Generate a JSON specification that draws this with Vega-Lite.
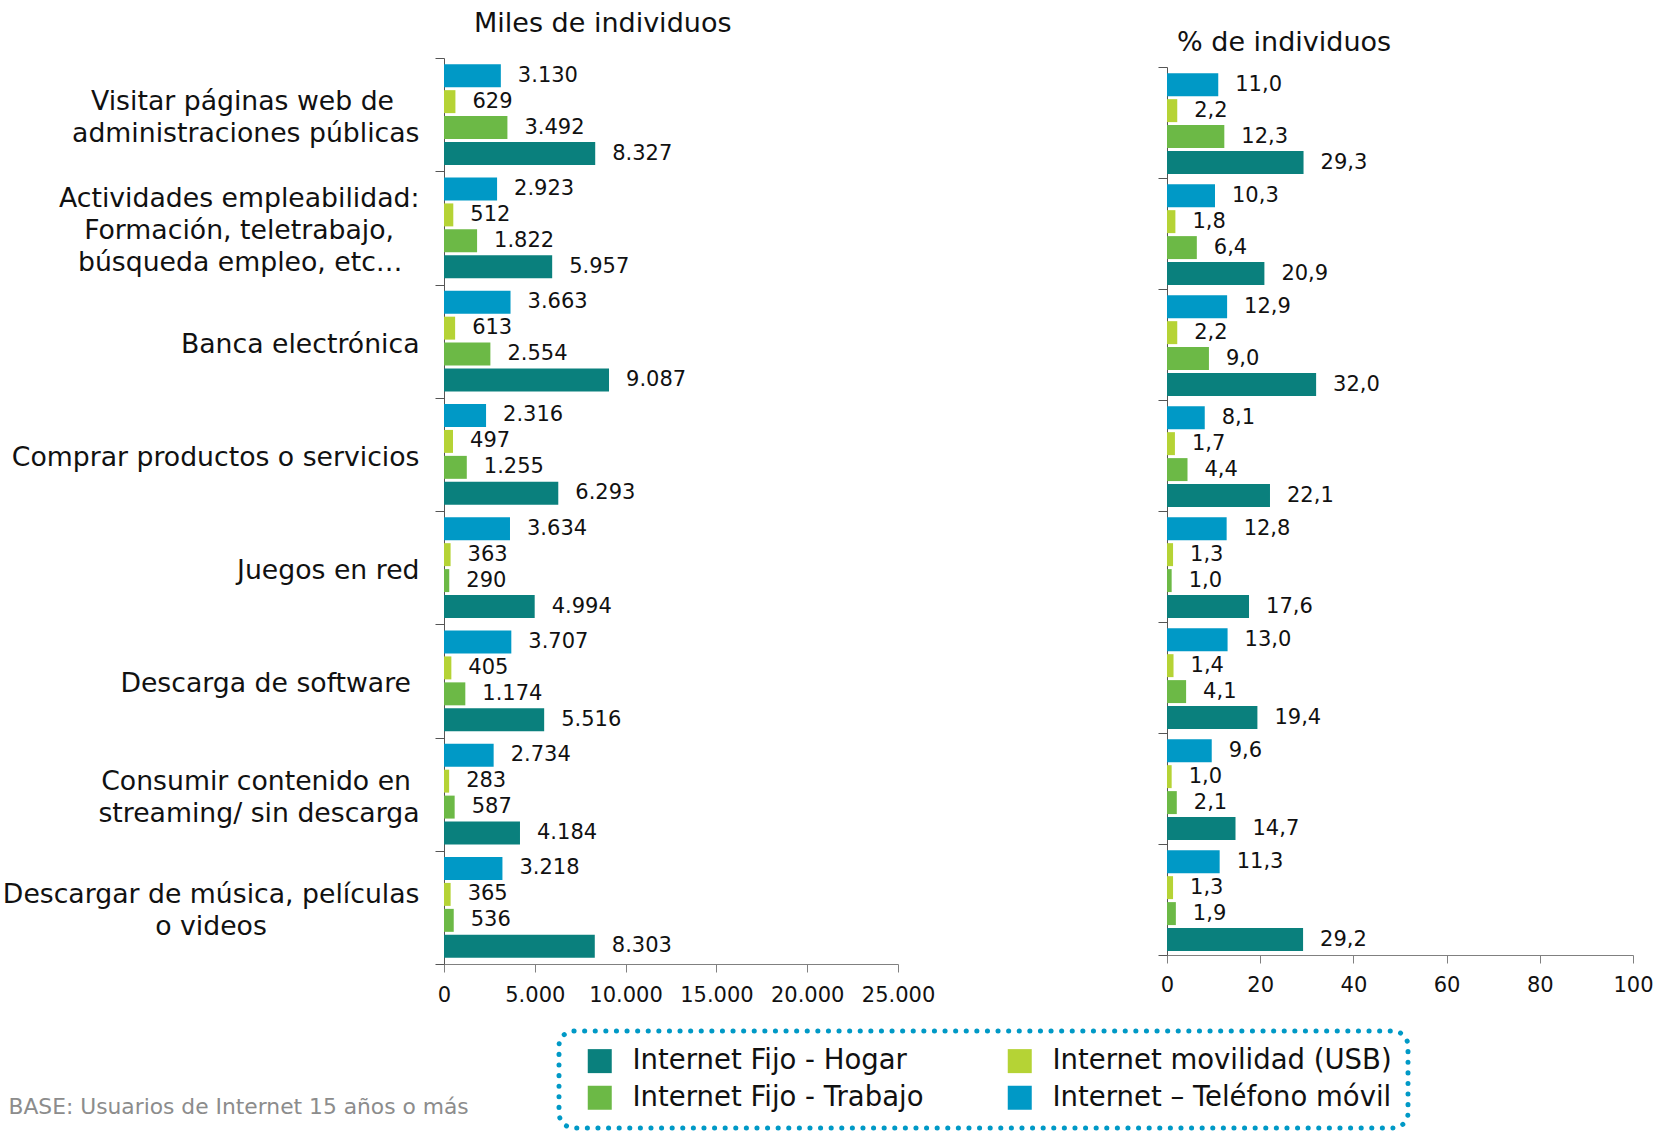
{
  "$schema": "https://vega.github.io/schema/vega-lite/v6.json",
  "background": "white",
  "padding": {"left": 2, "top": 10, "right": 0, "bottom": 0},
  "data": {"values": [
    {"cat": "Visitar páginas web de\u00a0\u00a0\u00a0\u200b|administraciones públicas", "serie": "Internet – Teléfono móvil", "miles": 3130, "pct": 11.0},
    {"cat": "Visitar páginas web de\u00a0\u00a0\u00a0\u200b|administraciones públicas", "serie": "Internet movilidad (USB)", "miles": 629, "pct": 2.2},
    {"cat": "Visitar páginas web de\u00a0\u00a0\u00a0\u200b|administraciones públicas", "serie": "Internet Fijo - Trabajo", "miles": 3492, "pct": 12.3},
    {"cat": "Visitar páginas web de\u00a0\u00a0\u00a0\u200b|administraciones públicas", "serie": "Internet Fijo - Hogar", "miles": 8327, "pct": 29.3},
    {"cat": "Actividades empleabilidad:|Formación, teletrabajo,\u00a0\u00a0\u00a0\u200b|búsqueda empleo, etc…\u00a0\u00a0\u200b", "serie": "Internet – Teléfono móvil", "miles": 2923, "pct": 10.3},
    {"cat": "Actividades empleabilidad:|Formación, teletrabajo,\u00a0\u00a0\u00a0\u200b|búsqueda empleo, etc…\u00a0\u00a0\u200b", "serie": "Internet movilidad (USB)", "miles": 512, "pct": 1.8},
    {"cat": "Actividades empleabilidad:|Formación, teletrabajo,\u00a0\u00a0\u00a0\u200b|búsqueda empleo, etc…\u00a0\u00a0\u200b", "serie": "Internet Fijo - Trabajo", "miles": 1822, "pct": 6.4},
    {"cat": "Actividades empleabilidad:|Formación, teletrabajo,\u00a0\u00a0\u00a0\u200b|búsqueda empleo, etc…\u00a0\u00a0\u200b", "serie": "Internet Fijo - Hogar", "miles": 5957, "pct": 20.9},
    {"cat": "Banca electrónica", "serie": "Internet – Teléfono móvil", "miles": 3663, "pct": 12.9},
    {"cat": "Banca electrónica", "serie": "Internet movilidad (USB)", "miles": 613, "pct": 2.2},
    {"cat": "Banca electrónica", "serie": "Internet Fijo - Trabajo", "miles": 2554, "pct": 9.0},
    {"cat": "Banca electrónica", "serie": "Internet Fijo - Hogar", "miles": 9087, "pct": 32.0},
    {"cat": "Comprar productos o servicios", "serie": "Internet – Teléfono móvil", "miles": 2316, "pct": 8.1},
    {"cat": "Comprar productos o servicios", "serie": "Internet movilidad (USB)", "miles": 497, "pct": 1.7},
    {"cat": "Comprar productos o servicios", "serie": "Internet Fijo - Trabajo", "miles": 1255, "pct": 4.4},
    {"cat": "Comprar productos o servicios", "serie": "Internet Fijo - Hogar", "miles": 6293, "pct": 22.1},
    {"cat": "Juegos en red", "serie": "Internet – Teléfono móvil", "miles": 3634, "pct": 12.8},
    {"cat": "Juegos en red", "serie": "Internet movilidad (USB)", "miles": 363, "pct": 1.3},
    {"cat": "Juegos en red", "serie": "Internet Fijo - Trabajo", "miles": 290, "pct": 1.0},
    {"cat": "Juegos en red", "serie": "Internet Fijo - Hogar", "miles": 4994, "pct": 17.6},
    {"cat": "Descarga de software\u00a0\u200b", "serie": "Internet – Teléfono móvil", "miles": 3707, "pct": 13.0},
    {"cat": "Descarga de software\u00a0\u200b", "serie": "Internet movilidad (USB)", "miles": 405, "pct": 1.4},
    {"cat": "Descarga de software\u00a0\u200b", "serie": "Internet Fijo - Trabajo", "miles": 1174, "pct": 4.1},
    {"cat": "Descarga de software\u00a0\u200b", "serie": "Internet Fijo - Hogar", "miles": 5516, "pct": 19.4},
    {"cat": "Consumir contenido en\u00a0\u200b|streaming/ sin descarga", "serie": "Internet – Teléfono móvil", "miles": 2734, "pct": 9.6},
    {"cat": "Consumir contenido en\u00a0\u200b|streaming/ sin descarga", "serie": "Internet movilidad (USB)", "miles": 283, "pct": 1.0},
    {"cat": "Consumir contenido en\u00a0\u200b|streaming/ sin descarga", "serie": "Internet Fijo - Trabajo", "miles": 587, "pct": 2.1},
    {"cat": "Consumir contenido en\u00a0\u200b|streaming/ sin descarga", "serie": "Internet Fijo - Hogar", "miles": 4184, "pct": 14.7},
    {"cat": "Descargar de música, películas|o videos\u00a0\u00a0\u00a0\u00a0\u00a0\u00a0\u00a0\u00a0\u00a0\u00a0\u00a0\u00a0\u00a0\u00a0\u00a0\u00a0\u00a0\u00a0\u200b", "serie": "Internet – Teléfono móvil", "miles": 3218, "pct": 11.3},
    {"cat": "Descargar de música, películas|o videos\u00a0\u00a0\u00a0\u00a0\u00a0\u00a0\u00a0\u00a0\u00a0\u00a0\u00a0\u00a0\u00a0\u00a0\u00a0\u00a0\u00a0\u00a0\u200b", "serie": "Internet movilidad (USB)", "miles": 365, "pct": 1.3},
    {"cat": "Descargar de música, películas|o videos\u00a0\u00a0\u00a0\u00a0\u00a0\u00a0\u00a0\u00a0\u00a0\u00a0\u00a0\u00a0\u00a0\u00a0\u00a0\u00a0\u00a0\u00a0\u200b", "serie": "Internet Fijo - Trabajo", "miles": 536, "pct": 1.9},
    {"cat": "Descargar de música, películas|o videos\u00a0\u00a0\u00a0\u00a0\u00a0\u00a0\u00a0\u00a0\u00a0\u00a0\u00a0\u00a0\u00a0\u00a0\u00a0\u00a0\u00a0\u00a0\u200b", "serie": "Internet Fijo - Hogar", "miles": 8303, "pct": 29.2}
  ]},
  "hconcat": [
    {
      "width": 454,
      "height": 906,
      "title": {"text": "Miles de individuos", "anchor": "start", "frame": "group", "dx": 30, "offset": 7, "fontSize": 27, "fontWeight": "normal", "color": "#111111"},
      "encoding": {
        "y": {"field": "cat", "type": "nominal", "sort": null, "scale": {"paddingInner": 0, "paddingOuter": 0},
          "axis": {"title": null, "tickBand": "extent", "tickSize": 9, "labelPadding": 16, "labelFontSize": 26.7, "labelLineHeight": 32, "labelLimit": 0, "labelColor": "#111111", "labelExpr": "split(datum.label, '|')", "domainColor": "#555555", "tickColor": "#555555",
            "labelOffset": {"condition": [{"test": "length(split(datum.value, '|')) == 3", "value": -29}, {"test": "length(split(datum.value, '|')) == 2", "value": -13}], "value": 3}}},
        "yOffset": {"field": "serie", "type": "nominal", "sort": ["Internet – Teléfono móvil", "Internet movilidad (USB)", "Internet Fijo - Trabajo", "Internet Fijo - Hogar"], "scale": {"paddingInner": 0.115, "paddingOuter": 0.24}},
        "x": {"field": "miles", "type": "quantitative", "scale": {"domain": [0, 25000], "nice": false},
          "axis": {"title": "BASE: Usuarios de Internet 15 años o más", "values": [0, 5000, 10000, 15000, 20000, 25000], "format": ",d", "labelFontSize": 21, "labelColor": "#111111", "labelPadding": 12, "labelFlush": false, "tickSize": 8, "domainColor": "#808080", "tickColor": "#808080", "titleX": -436, "titleY": 142, "titleAlign": "left", "titleBaseline": "middle", "titleFontSize": 21.8, "titleFontWeight": "normal", "titleColor": "#8c8c8c"}}
      },
      "layer": [
        {"mark": {"type": "bar"},
          "encoding": {"color": {"field": "serie", "type": "nominal",
            "scale": {"domain": ["Internet Fijo - Hogar", "Internet Fijo - Trabajo", "Internet movilidad (USB)", "Internet – Teléfono móvil"], "range": ["#0a807d", "#6cb946", "#b5d335", "#0099c6"]},
            "legend": {"title": null, "orient": "none", "legendX": 115, "legendY": 973, "columns": 2, "symbolType": "square", "symbolSize": 576, "symbolStrokeWidth": 0, "symbolOffset": 11, "labelFontSize": 27.5, "labelColor": "#111111", "labelOffset": 19, "labelLimit": 0, "columnPadding": 71, "rowPadding": 8, "padding": 16, "strokeColor": "#0099c6", "cornerRadius": 15,
              "encode": {"legend": {"update": {"stroke": {"value": "#0099c6"}, "strokeDash": {"value": [0.1, 10.5]}, "strokeWidth": {"value": 5}, "strokeCap": {"value": "round"}}}}}}}},
        {"mark": {"type": "text", "align": "left", "baseline": "middle", "dx": 17, "fontSize": 21, "color": "#111111"},
          "encoding": {"text": {"field": "miles", "type": "quantitative", "format": ",d"}}}
      ]
    },
    {
      "width": 466,
      "height": 888,
      "title": {"text": "% de individuos", "anchor": "start", "frame": "group", "dx": 10, "offset": 10, "fontSize": 27, "fontWeight": "normal", "color": "#111111"},
      "encoding": {
        "y": {"field": "cat", "type": "nominal", "sort": null, "scale": {"paddingInner": 0, "paddingOuter": 0},
          "axis": {"title": null, "labels": false, "tickBand": "extent", "tickSize": 9, "domainColor": "#555555", "tickColor": "#555555"}},
        "yOffset": {"field": "serie", "type": "nominal", "sort": ["Internet – Teléfono móvil", "Internet movilidad (USB)", "Internet Fijo - Trabajo", "Internet Fijo - Hogar"], "scale": {"paddingInner": 0.115, "paddingOuter": 0.24}},
        "x": {"field": "pct", "type": "quantitative", "scale": {"domain": [0, 100], "nice": false},
          "axis": {"title": null, "values": [0, 20, 40, 60, 80, 100], "labelFontSize": 21, "labelColor": "#111111", "labelPadding": 11, "labelFlush": false, "tickSize": 8, "domainColor": "#808080", "tickColor": "#808080"}}
      },
      "layer": [
        {"mark": {"type": "bar"},
          "encoding": {"color": {"field": "serie", "type": "nominal",
            "scale": {"domain": ["Internet Fijo - Hogar", "Internet Fijo - Trabajo", "Internet movilidad (USB)", "Internet – Teléfono móvil"], "range": ["#0a807d", "#6cb946", "#b5d335", "#0099c6"]}}}},
        {"mark": {"type": "text", "align": "left", "baseline": "middle", "dx": 17, "fontSize": 21, "color": "#111111"},
          "encoding": {"text": {"field": "pct", "type": "quantitative", "format": ".1f"}}}
      ]
    }
  ],
  "spacing": 269,
  "bounds": "flush",
  "center": true,
  "resolve": {"scale": {"color": "shared"}, "legend": {"color": "shared"}},
  "config": {
    "font": "DejaVu Sans",
    "locale": {"number": {"decimal": ",", "thousands": ".", "grouping": [3], "currency": ["", " €"]}},
    "view": {"stroke": null},
    "axis": {"grid": false, "labelFont": "DejaVu Sans", "titleFont": "DejaVu Sans"},
    "legend": {"labelFont": "DejaVu Sans"},
    "title": {"font": "DejaVu Sans"}
  }
}
